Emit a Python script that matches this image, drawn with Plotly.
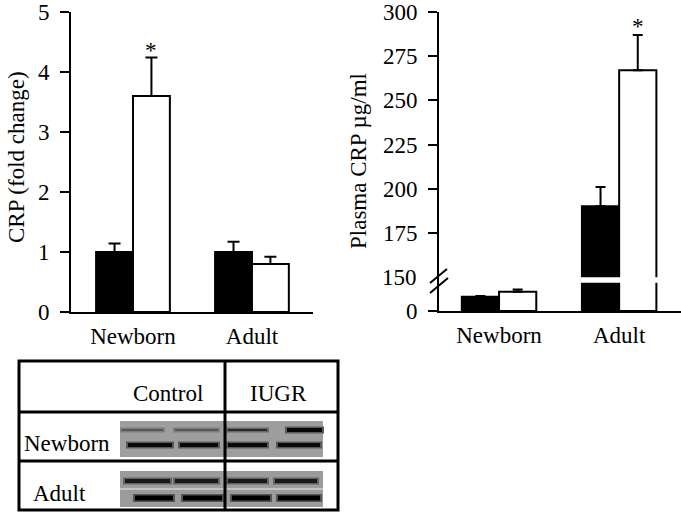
import plotly.graph_objects as go

# ---------------- data ----------------
groups = ["Newborn", "Adult"]

fold_control = [1.0, 1.0]
fold_control_err = [0.14, 0.17]
fold_iugr = [3.6, 0.8]
fold_iugr_err = [0.64, 0.12]

plasma_control = [63, 190]
plasma_control_err = [3, 11]
plasma_iugr = [85, 267]
plasma_iugr_err = [10, 20]

left_ticks = [0, 1, 2, 3, 4, 5]
right_ticks = [0, 150, 175, 200, 225, 250, 275, 300]

blot_cols = ["Control", "IUGR"]
blot_rows = ["Newborn", "Adult"]
# band darkness per lane (0 = invisible, 1 = black)
nb_upper = [0.45, 0.45, 0.75, 0.95]
nb_lower = [0.95, 0.95, 0.95, 0.95]
ad_upper = [0.85, 0.85, 0.85, 0.85]
ad_lower = [1.0, 1.0, 1.0, 1.0]

# ---------------- helpers ----------------
W, H = 681, 513
FONT = "Liberation Serif"
FS = 23
BREAK = 150
LOW = 34 / 265  # compression of the segment below the axis break


def disp(v):
    return v * LOW if v <= BREAK else BREAK * LOW + (v - BREAK)


def px(x):
    return x / W


def py(y):
    return 1 - y / H


def up_err(vals, errs):
    return [disp(v + e) - disp(v) for v, e in zip(vals, errs)]


fig = go.Figure()

eb = dict(type="data", symmetric=False, color="black", thickness=2)

# left panel
fig.add_trace(go.Bar(x=groups, y=fold_control, name="Control", offsetgroup="c",
                     marker=dict(color="black", line=dict(color="black", width=2)),
                     error_y=dict(array=fold_control_err, arrayminus=[0, 0], width=6, **eb),
                     xaxis="x", yaxis="y", showlegend=False))
fig.add_trace(go.Bar(x=groups, y=fold_iugr, name="IUGR", offsetgroup="i",
                     marker=dict(color="white", line=dict(color="black", width=2)),
                     error_y=dict(array=fold_iugr_err, arrayminus=[0, 0], width=6, **eb),
                     xaxis="x", yaxis="y", showlegend=False))

# right panel
fig.add_trace(go.Bar(x=groups, y=[disp(v) for v in plasma_control], name="Control",
                     offsetgroup="c", customdata=plasma_control,
                     hovertemplate="%{x}: %{customdata} µg/ml<extra>Control</extra>",
                     marker=dict(color="black", line=dict(color="black", width=2)),
                     error_y=dict(array=up_err(plasma_control, plasma_control_err),
                                  arrayminus=[0, 0], width=5, **eb),
                     xaxis="x2", yaxis="y2", showlegend=False))
fig.add_trace(go.Bar(x=groups, y=[disp(v) for v in plasma_iugr], name="IUGR",
                     offsetgroup="i", customdata=plasma_iugr,
                     hovertemplate="%{x}: %{customdata} µg/ml<extra>IUGR</extra>",
                     marker=dict(color="white", line=dict(color="black", width=2)),
                     error_y=dict(array=up_err(plasma_iugr, plasma_iugr_err),
                                  arrayminus=[0, 0], width=5, **eb),
                     xaxis="x2", yaxis="y2", showlegend=False))

tf = dict(family=FONT, size=FS, color="black")
yax = dict(showline=True, linewidth=2, linecolor="black", ticks="outside", ticklen=9,
           tickwidth=2, tickcolor="black", showgrid=False, zeroline=False, tickfont=tf,
           ticklabelstandoff=6, automargin=False)
xax = dict(showline=True, linewidth=2, linecolor="black", ticks="", showgrid=False,
           zeroline=False, tickfont=tf, ticklabelstandoff=2, automargin=False)

right_vals = [disp(v) for v in right_ticks if v != BREAK]
right_text = [str(v) for v in right_ticks if v != BREAK]

fig.update_layout(
    template="none",
    width=W, height=H, margin=dict(l=0, r=0, t=0, b=0, autoexpand=False),
    paper_bgcolor="white", plot_bgcolor="rgba(0,0,0,0)",
    barmode="group", bargap=0.38, bargroupgap=0,
    font=dict(family=FONT, color="black"),
    xaxis=dict(domain=[px(71), px(313)], range=[-0.521, 1.513], anchor="y", **xax),
    yaxis=dict(domain=[py(312), py(12)], range=[0, 5], tickvals=left_ticks,
               anchor="x", **yax),
    xaxis2=dict(domain=[px(439), px(681)], range=[-0.5, 1.515], anchor="y2", **xax),
    yaxis2=dict(domain=[py(311), py(12)], range=[0, disp(300)], tickvals=right_vals,
                ticktext=right_text, anchor="x2", **yax),
)

ann = []


def text(t, x, y, xref="paper", yref="paper", xa="center", ya="middle", **kw):
    ann.append(dict(text=t, x=x, y=y, xref=xref, yref=yref, showarrow=False, font=tf,
                    xanchor=xa, yanchor=ya, **kw))


# axis titles
text("CRP (fold change)", px(16), py(157), textangle=-90)
text("Plasma CRP µg/ml", px(358), py(161), textangle=-90)
# 150 label at the break
text(str(BREAK), px(419), disp(BREAK), yref="y2", xa="right")
# significance stars
text("*", 0.155, fold_iugr[0] + fold_iugr_err[0], xref="x", yref="y", ya="bottom", yshift=-7)
text("*", 1.155, disp(plasma_iugr[1] + plasma_iugr_err[1]), xref="x2", yref="y2",
     ya="bottom", yshift=-6)

# blot table text
text(blot_cols[0], px(168), py(393))
text(blot_cols[1], px(278), py(393))
text(blot_rows[0], px(22), py(443), xa="left")
text(blot_rows[1], px(31), py(493), xa="left")

shapes = []


def pline(x0, y0, x1, y1, w=2, c="black"):
    shapes.append(dict(type="line", xref="paper", yref="paper", x0=px(x0), y0=py(y0),
                       x1=px(x1), y1=py(y1), line=dict(color=c, width=w), layer="above"))


def prect(x0, y0, x1, y1, fill, lw=0, lc="black"):
    shapes.append(dict(type="rect", xref="paper", yref="paper", x0=px(x0), y0=py(y0),
                       x1=px(x1), y1=py(y1), fillcolor=fill,
                       line=dict(color=lc, width=lw), layer="above"))


# axis break marks
pline(430, 283, 447, 269)
pline(430, 293, 448, 278)
# white gap through the adult bars at the break
shapes.append(dict(type="rect", xref="x2", yref="y2", x0=0.68, x1=1.33,
                   y0=disp(BREAK) - 3.3, y1=disp(BREAK) - 0.2, fillcolor="white",
                   line=dict(width=0), layer="above"))

# blot images (drawn)
prect(120, 421, 323, 457, "#9e9e9e")
prect(120, 471, 323, 507, "#9b9b9b")
pline(120, 489, 323, 489, 1.5, "#cfcfcf")


def gray(d):
    g = int(round(158 * (1 - d)))
    return f"rgb({g},{g},{g})"


def halo(d):
    g = int(round(158 * (1 - 0.45 * d)))
    return f"rgb({g},{g},{g})"


def band(a, b, y, w, d):
    pline(a - 2, y, b + 2, y, w + 3, halo(d))
    pline(a, y, b, y, w, gray(d))


lanes_nb_u = [(122, 163), (175, 218), (228, 267), (287, 322)]
lanes_nb_l = [(128, 172), (180, 218), (228, 267), (278, 320)]
lanes_ad_u = [(125, 170), (175, 218), (228, 267), (275, 317)]
lanes_ad_l = [(135, 173), (183, 222), (232, 270), (278, 320)]
for (a, b), d in zip(lanes_nb_u, nb_upper):
    band(a, b, 430, 2 + 2 * (d > 0.9), d)
for (a, b), d in zip(lanes_nb_l, nb_lower):
    band(a, b, 445, 4, d)
for (a, b), d in zip(lanes_ad_u, ad_upper):
    band(a, b, 481, 4, d)
for (a, b), d in zip(lanes_ad_l, ad_lower):
    band(a, b, 498, 5, d)

# table frame
prect(19, 361, 338, 510, "rgba(0,0,0,0)", 3)
pline(19, 412, 338, 412, 3)
pline(19, 461, 338, 461, 3)
pline(225, 361, 225, 510, 3)

fig.update_layout(annotations=ann, shapes=shapes)
fig.write_html("out.html", config={"displayModeBar": False},
               post_script="document.body.style.margin='0';"
                           "document.body.style.overflow='hidden';")
